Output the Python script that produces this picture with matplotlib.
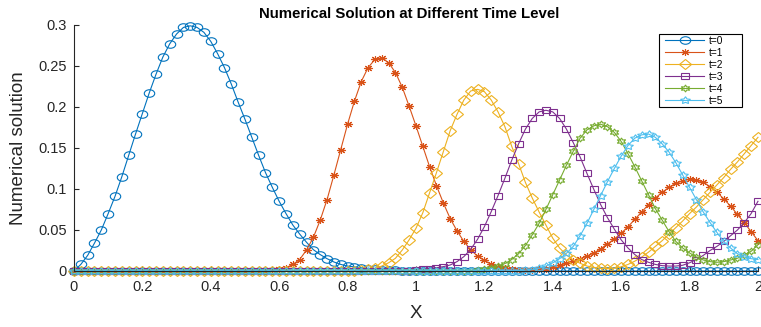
import numpy as np
import matplotlib
matplotlib.use('Agg')
import matplotlib.pyplot as plt
from matplotlib.markers import MarkerStyle
from matplotlib.transforms import Affine2D
from matplotlib.patches import Rectangle

plt.rcParams['font.family'] = ['Liberation Sans', 'DejaVu Sans']

# grid: 101 points from 0 to 2
x = np.round(np.arange(101) * 0.02, 2)

u0 = [0, 0.008, 0.019, 0.034, 0.050, 0.070, 0.091, 0.115, 0.141, 0.167,
      0.192, 0.217, 0.240, 0.261, 0.277, 0.289, 0.297, 0.299, 0.297, 0.291,
      0.280, 0.265, 0.248, 0.228, 0.206, 0.185, 0.163, 0.141, 0.120, 0.102,
      0.085, 0.070, 0.056, 0.045, 0.035, 0.026, 0.020, 0.015, 0.011, 0.008,
      0.006, 0.005, 0.004, 0.003, 0.002, 0.0015, 0.001, 0.001, 0.0005, 0.0005] + [0] * 51

u1 = [0] * 29 + [0.001, 0.002, 0.004, 0.008, 0.014, 0.0256, 0.041, 0.062, 0.087, 0.117,
                 0.148, 0.179, 0.207, 0.231, 0.248, 0.258, 0.260, 0.254, 0.242, 0.224,
                 0.201, 0.177, 0.152, 0.127, 0.104, 0.083, 0.064, 0.049, 0.036, 0.026,
                 0.018, 0.013, 0.008, 0.005, 0.0035, 0.002, 0.0015, 0.001, 0.0015, 0.002,
                 0.003, 0.005, 0.007, 0.0095, 0.012, 0.015, 0.018, 0.022, 0.027, 0.033,
                 0.039, 0.046, 0.054, 0.063, 0.072, 0.081, 0.089, 0.096, 0.102, 0.107,
                 0.110, 0.112, 0.111, 0.108, 0.103, 0.096, 0.088, 0.079, 0.069, 0.059,
                 0.048, 0.037]

u2 = [0] * 42 + [0.001, 0.002, 0.0033, 0.006, 0.010, 0.0155, 0.0256, 0.038, 0.052, 0.071,
                 0.0955, 0.120, 0.1455, 0.171, 0.191, 0.2085, 0.2195, 0.2215, 0.2187, 0.2085,
                 0.194, 0.176, 0.152, 0.131, 0.108, 0.089, 0.072, 0.056, 0.040, 0.028,
                 0.0195, 0.0134, 0.0094, 0.006, 0.0045, 0.0033, 0.003, 0.0035, 0.005, 0.008,
                 0.012, 0.017, 0.023, 0.030, 0.037, 0.045, 0.053, 0.061, 0.070, 0.078,
                 0.087, 0.096, 0.105, 0.114, 0.124, 0.133, 0.143, 0.153, 0.163]

u3 = [0] * 49 + [0.0005, 0.001, 0.002, 0.003, 0.004, 0.0053, 0.0073, 0.0114, 0.0175, 0.0264,
                 0.0386, 0.054, 0.0723, 0.092, 0.113, 0.135, 0.155, 0.173, 0.186, 0.194,
                 0.196, 0.194, 0.186, 0.173, 0.1565, 0.139, 0.119, 0.0996, 0.081, 0.065,
                 0.051, 0.038, 0.028, 0.020, 0.014, 0.0106, 0.008, 0.0065, 0.006, 0.006,
                 0.007, 0.010, 0.014, 0.019, 0.025, 0.030, 0.036, 0.043, 0.050, 0.059,
                 0.070, 0.085]

u4 = [0] * 58 + [0.0005, 0.001, 0.002, 0.004, 0.006, 0.009, 0.014, 0.021, 0.031, 0.044,
                 0.058, 0.075, 0.093, 0.111, 0.129, 0.146, 0.162, 0.172, 0.177, 0.179,
                 0.176, 0.169, 0.158, 0.143, 0.127, 0.110, 0.093, 0.076, 0.062, 0.048,
                 0.036, 0.028, 0.022, 0.017, 0.0134, 0.0114, 0.0106, 0.0114, 0.0134, 0.0155,
                 0.0195, 0.024, 0.032]

u5 = [0] * 64 + [0.0005, 0.0005, 0.001, 0.0015, 0.0033, 0.006, 0.010, 0.015, 0.0216, 0.030,
                 0.043, 0.058, 0.075, 0.092, 0.109, 0.125, 0.140, 0.153, 0.162, 0.166,
                 0.167, 0.163, 0.155, 0.145, 0.132, 0.117, 0.102, 0.087, 0.072, 0.059,
                 0.047, 0.036, 0.028, 0.021, 0.017, 0.015, 0.014]

labels = ['t=0', 't=1', 't=2', 't=3', 't=4', 't=5']
series = [u0, u1, u2, u3, u4, u5]
colors = ['#0072BD', '#D95319', '#EDB120', '#7E2F8E', '#77AC30', '#4DBEEE']
markers = ['o', (8, 2, 0), 'D', 's', (6, 1, 0), (5, 1, 0)]
msizes = [7.5, 6.5, 6.5, 6, 7, 7.5]

xticks = [0, 0.2, 0.4, 0.6, 0.8, 1, 1.2, 1.4, 1.6, 1.8, 2]
xticklabels = ['0', '0.2', '0.4', '0.6', '0.8', '1', '1.2', '1.4', '1.6', '1.8', '2']
yticks = [0, 0.05, 0.1, 0.15, 0.2, 0.25, 0.3]
yticklabels = ['0', '0.05', '0.1', '0.15', '0.2', '0.25', '0.3']

fig = plt.figure(figsize=(7.61, 3.27), dpi=100)
ax = fig.add_axes([0.0972, 0.1713, 0.8988, 0.7523])

squash = Affine2D().scale(1.0, 0.72)
for y, lab, c, m, ms in zip(series, labels, colors, markers, msizes):
    ax.plot(x, y, color=c, lw=0.8, marker=MarkerStyle(m, transform=squash),
            markersize=ms, markerfacecolor='none', markeredgecolor=c,
            markeredgewidth=0.8, label=lab, clip_on=False)

ax.set_xlim(0, 2)
ax.set_ylim(0, 0.3)
ax.set_xticks(xticks)
ax.set_xticklabels(xticklabels)
ax.set_yticks(yticks)
ax.set_yticklabels(yticklabels)
for s in ['top', 'right']:
    ax.spines[s].set_visible(False)
for s in ['left', 'bottom']:
    ax.spines[s].set_color('#262626')
    ax.spines[s].set_linewidth(0.8)
ax.tick_params(direction='in', length=3.5, width=0.8, colors='#262626',
               labelsize=10.5, labelcolor='#262626')
ax.tick_params(axis='x', pad=6.5)
ax.tick_params(axis='y', pad=5)

ax.set_xlabel('X', fontsize=13.5, color='#262626')
ax.set_ylabel('Numerical solution', fontsize=13.5, color='#262626')
ax.xaxis.set_label_coords(0.5, -0.14)
ax.yaxis.set_label_coords(-0.068, 0.5)
ax.text(0.49, 1.045, 'Numerical Solution at Different Time Level', transform=ax.transAxes,
        ha='center', va='center', fontsize=10.8, fontweight='bold', color='black')

leg = ax.legend(loc='upper left', bbox_to_anchor=(0.864, 0.957), borderaxespad=0,
                borderpad=0, fontsize=7.3, handlelength=3.9, handletextpad=0.45,
                labelspacing=0.2, frameon=False)
ax.add_patch(Rectangle((0.855, 0.6667), 0.1216, 0.2967, transform=ax.transAxes,
                       facecolor='none', edgecolor='black', lw=0.8, clip_on=False,
                       zorder=5))
leg.set_zorder(6)

fig.savefig('out.png', dpi=100)
